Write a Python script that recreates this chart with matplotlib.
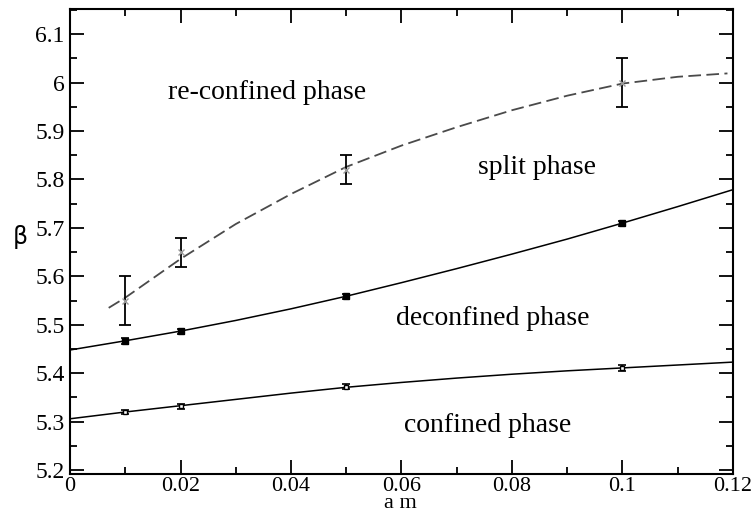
import numpy as np
import matplotlib.pyplot as plt
from matplotlib.ticker import MultipleLocator

plt.rcParams['font.family'] = ['Liberation Serif', 'DejaVu Serif']
serif = 'Liberation Serif'

# measured points
am = [0.01, 0.02, 0.05, 0.1]
beta_conf = [5.320, 5.332, 5.372, 5.410]
err_conf = [0.005, 0.005, 0.005, 0.006]
beta_deconf = [5.467, 5.487, 5.559, 5.710]
err_deconf = [0.006, 0.005, 0.005, 0.005]
beta_split = [5.55, 5.65, 5.82, 6.00]
err_split = [0.05, 0.03, 0.03, 0.05]

# fit curves
x_fit = [0.0, 0.01, 0.02, 0.03, 0.04, 0.05, 0.06, 0.07, 0.08, 0.09, 0.10, 0.11, 0.12]
fit_conf = [5.306, 5.320, 5.333, 5.346, 5.359, 5.371, 5.381, 5.390, 5.398, 5.405, 5.411, 5.417, 5.423]
fit_deconf = [5.448, 5.467, 5.487, 5.509, 5.533, 5.559, 5.587, 5.616, 5.646, 5.677, 5.710, 5.744, 5.779]
x_fit_split = [0.007, 0.01, 0.02, 0.03, 0.04, 0.05, 0.06, 0.07, 0.08, 0.09, 0.10, 0.11, 0.119]
fit_split = [5.535, 5.556, 5.636, 5.708, 5.770, 5.826, 5.870, 5.908, 5.943, 5.973, 5.998, 6.012, 6.019]

xticks = [0, 0.02, 0.04, 0.06, 0.08, 0.1, 0.12]
xtick_labels = ['0', '0.02', '0.04', '0.06', '0.08', '0.1', '0.12']
yticks = [5.2, 5.3, 5.4, 5.5, 5.6, 5.7, 5.8, 5.9, 6.0, 6.1]
ytick_labels = ['5.2', '5.3', '5.4', '5.5', '5.6', '5.7', '5.8', '5.9', '6', '6.1']

fig = plt.figure(figsize=(7.53, 5.16), dpi=100)
ax = fig.add_axes([0.093, 0.0814, 0.8804, 0.9012])

ax.plot(x_fit, fit_conf, color='black', lw=1.1)
ax.plot(x_fit, fit_deconf, color='black', lw=1.1)
ax.plot(x_fit_split, fit_split, color='#4a4a4a', lw=1.3, dashes=(7, 3))

ax.errorbar(am, beta_conf, yerr=err_conf, fmt='s', ms=3, mfc='white', mec='black',
            ecolor='black', elinewidth=1.2, capsize=3, capthick=1.2)
ax.errorbar(am, beta_deconf, yerr=err_deconf, fmt='s', ms=5, color='black',
            elinewidth=1.2, capsize=3, capthick=1.2)
ax.errorbar(am, beta_split, yerr=err_split, fmt='x', ms=4, mec='#999999',
            ecolor='black', elinewidth=1.3, capsize=4, capthick=1.3)

ax.text(0.0357, 5.980, 're-confined phase', fontsize=20, family=serif, ha='center', va='center')
ax.text(0.0845, 5.824, 'split phase', fontsize=20, family=serif, ha='center', va='center')
ax.text(0.0766, 5.514, 'deconfined phase', fontsize=20, family=serif, ha='center', va='center')
ax.text(0.0756, 5.293, 'confined phase', fontsize=20, family=serif, ha='center', va='center')

ax.set_xlim(0, 0.12)
ax.set_ylim(5.192, 6.152)
ax.set_xticks(xticks)
ax.set_xticklabels(xtick_labels, fontfamily=serif, fontsize=16)
ax.set_yticks(yticks)
ax.set_yticklabels(ytick_labels, fontfamily=serif, fontsize=17)
ax.xaxis.set_minor_locator(MultipleLocator(0.01))
ax.yaxis.set_minor_locator(MultipleLocator(0.05))
ax.tick_params(which='both', direction='in', top=True, right=True, width=1.3)
ax.tick_params(axis='x', pad=2)
ax.tick_params(axis='y', pad=4)
ax.tick_params(which='major', length=10)
ax.tick_params(which='minor', length=5)
for s in ax.spines.values():
    s.set_linewidth(1.5)

fig.text(0.532, 0.024, 'a m', fontsize=16, family=serif, ha='center', va='center')
fig.text(0.027, 0.54, 'β', fontsize=17, family='DejaVu Sans', ha='center', va='center')

fig.savefig('out.png', dpi=100)
